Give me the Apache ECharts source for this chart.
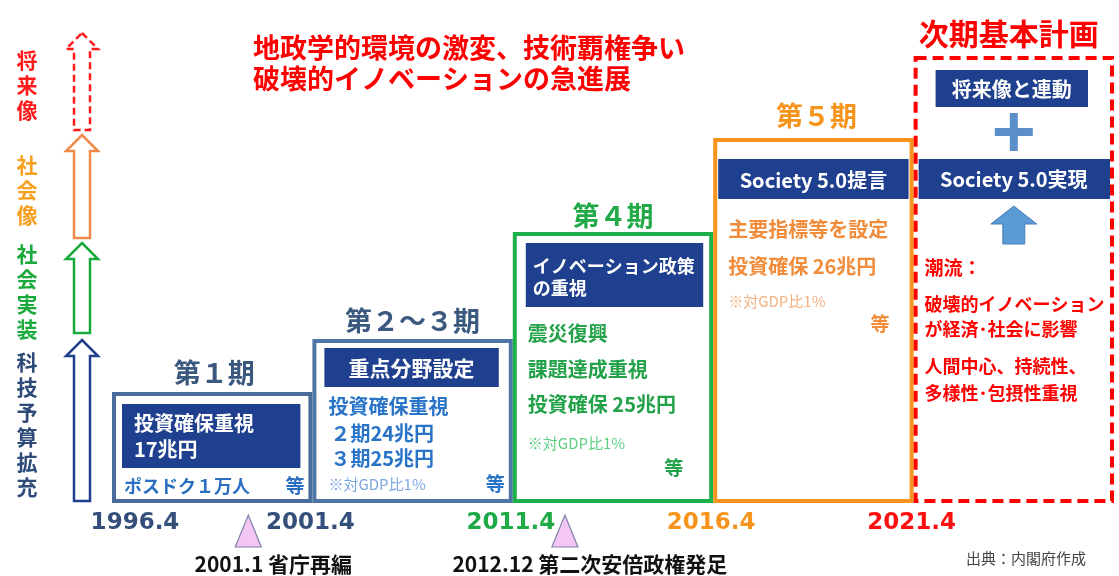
<!DOCTYPE html>
<html>
<head>
<meta charset="utf-8">
<script src="https://cdn.jsdelivr.net/npm/echarts@6/dist/echarts.min.js"></script>
<style>
  html, body { margin: 0; padding: 0; background: #fff; }
  #main { width: 1119px; height: 576px; }
</style>
</head>
<body>
<div id="main"></div>
<script>
// 期ごとの枠（横位置は期の番号、縦は階段の高さ）
var periods = ['第１期', '第２～３期', '第４期', '第５期', '次期基本計画'];
var periodTops = [1.07, 1.6, 2.67, 3.61, 4.43];
var yearLabels = ['1996.4', '2001.4', '2011.4', '2016.4', '2021.4'];

// 枠の中の見出し（紺の帯）と本文
var headTexts = [
  ['投資確保重視', '17兆円'],
  ['重点分野設定'],
  ['イノベーション政策', 'の重視'],
  ['Society 5.0提言'],
  ['将来像と連動', 'Society 5.0実現']
];
var noteTexts = [
  ['ポスドク１万人'],
  ['投資確保重視', '２期24兆円', '３期25兆円'],
  ['震災復興', '課題達成重視', '投資確保 25兆円'],
  ['主要指標等を設定', '投資確保 26兆円'],
  ['潮流：', '破壊的イノベーション', 'が経済･社会に影響', '人間中心、持続性、', '多様性･包摂性重視']
];
var gdpNote = '※対GDP比1%';
var etcText = '等';

// 左の矢印（段階）
var stageNames = ['科技予算拡充', '社会実装', '社会像', '将来像'];
var stageFrom = [0, 1.68, 2.63, 3.71];
var stageTo = [1.61, 2.58, 3.66, 4.68];

// 出来事（三角印）
var eventDates = ['2001.1', '2012.12'];
var eventNames = ['省庁再編', '第二次安倍政権発足'];
var eventAt = [0.68, 2.26];

var JP = '"Noto Sans CJK JP", "Noto Sans", sans-serif';
var NAVY = '#1f3f8f';
var boxColors = ['#4a6c9b', '#5076a8', '#1db14b', '#f7941d', '#ff0000'];
var titleColors = ['#3b587f', '#3b587f', '#22aa48', '#f7941d', '#ff0000'];
var yearColors = ['#34507a', '#34507a', '#1eaa46', '#f7941d', '#ff1010'];
var stageColors = ['#203f8f', '#1aaa3c', '#ee8a4a', '#ff1a1a'];
var stageTextColors = ['#2d4a78', '#1aaa3c', '#f7a020', '#ff1a1a'];

function txt(x, y, s, fill, size, align, weight) {
  return {
    type: 'text',
    style: {
      x: x, y: y, text: s, fill: fill,
      fontSize: size, fontWeight: weight || 'bold', fontFamily: JP,
      align: align || 'left', verticalAlign: 'middle'
    }
  };
}
function navy(x, y, w, h) {
  return { type: 'rect', shape: { x: x, y: y, width: w, height: h }, style: { fill: NAVY } };
}

function renderPeriod(params, api) {
  var i = api.value(0);
  var p0 = api.coord([i, api.value(1)]);
  var p1 = api.coord([i + 1, 0]);
  var bx = p0[0] + 2, bx2 = p1[0] - 2, by = p0[1], by2 = p1[1];
  var cx = (bx + bx2) / 2;
  var heads = headTexts[i], notes = noteTexts[i];
  var kids = [{
    type: 'rect',
    shape: { x: bx, y: by, width: bx2 - bx, height: by2 - by },
    style: {
      fill: '#fff', stroke: boxColors[i], lineWidth: 4,
      lineDash: i === 4 ? [11, 6] : null
    }
  }];
  if (i === 0) {
    kids.push(txt(cx + 2, by - 21, periods[i], titleColors[i], 27, 'center'));
    kids.push(navy(bx + 8, by + 10, bx2 - bx - 18, 64));
    kids.push(txt(bx + 20, by + 29, heads[0], '#fff', 20));
    kids.push(txt(bx + 20, by + 55, heads[1], '#fff', 20));
    kids.push(txt(bx + 10, by + 92, notes[0], '#2a6fc0', 18));
    kids.push(txt(bx2 - 6, by + 92, etcText, '#2a6fc0', 19, 'right'));
  } else if (i === 1) {
    kids.push(txt(cx, by - 20, periods[i], titleColors[i], 27, 'center'));
    kids.push(navy(bx + 10, by + 7, bx2 - bx - 22, 39));
    kids.push(txt(cx - 1, by + 27, heads[0], '#fff', 21, 'center'));
    kids.push(txt(bx + 14, by + 65, notes[0], '#2a74c8', 20));
    kids.push(txt(bx + 16, by + 92, notes[1], '#2a74c8', 20));
    kids.push(txt(bx + 16, by + 117, notes[2], '#2a74c8', 20));
    kids.push(txt(bx + 14, by + 143, gdpNote, '#7ca6e0', 15, 'left', 'normal'));
    kids.push(txt(bx2 - 6, by + 143, etcText, '#2a74c8', 19, 'right'));
  } else if (i === 2) {
    kids.push(txt(cx, by - 18, periods[i], titleColors[i], 27, 'center'));
    kids.push(navy(bx + 11, by + 9, bx2 - bx - 19, 64));
    kids.push(txt(bx + 18, by + 32, heads[0], '#fff', 18));
    kids.push(txt(bx + 18, by + 54, heads[1], '#fff', 18));
    kids.push(txt(bx + 13, by + 99, notes[0], '#23a24a', 20));
    kids.push(txt(bx + 13, by + 135, notes[1], '#23a24a', 20));
    kids.push(txt(bx + 13, by + 170, notes[2], '#23a24a', 20));
    kids.push(txt(bx + 13, by + 209, gdpNote, '#5fcf85', 15, 'left', 'normal'));
    kids.push(txt(bx2 - 28, by + 234, etcText, '#23a24a', 19, 'right'));
  } else if (i === 3) {
    kids.push(txt(cx + 3, by - 24, periods[i], titleColors[i], 27, 'center'));
    kids.push(navy(bx + 3, by + 19, bx2 - bx - 6, 40));
    kids.push(txt(cx, by + 40, heads[0], '#fff', 20, 'center'));
    kids.push(txt(bx + 13, by + 89, notes[0], '#f08c3a', 20));
    kids.push(txt(bx + 13, by + 126, notes[1], '#f08c3a', 20));
    kids.push(txt(bx + 13, by + 161, gdpNote, '#f4b282', 15, 'left', 'normal'));
    kids.push(txt(bx2 - 22, by + 184, etcText, '#f08c3a', 19, 'right'));
  } else {
    kids.push(txt(cx - 5, by - 24, periods[i], titleColors[i], 30, 'center'));
    kids.push(navy(bx + 20, by + 12, bx2 - bx - 44, 37));
    kids.push(txt(cx - 2, by + 31, heads[0], '#fff', 20, 'center'));
    kids.push({ type: 'rect', shape: { x: cx - 19, y: by + 70, width: 38, height: 8 }, style: { fill: '#5b8fc9' } });
    kids.push({ type: 'rect', shape: { x: cx - 4, y: by + 55, width: 8, height: 38 }, style: { fill: '#5b8fc9' } });
    kids.push(navy(bx + 3, by + 101, bx2 - bx - 5, 40));
    kids.push(txt(cx, by + 121, heads[1], '#fff', 20, 'center'));
    kids.push({
      type: 'polygon',
      shape: { points: [[cx, by + 148], [cx + 23, by + 166], [cx + 11, by + 166], [cx + 11, by + 186],
        [cx - 11, by + 186], [cx - 11, by + 166], [cx - 23, by + 166]] },
      style: { fill: '#5b9bd5', stroke: '#4a80b8', lineWidth: 1 }
    });
    var ny = [210, 246, 271, 308, 335];
    notes.forEach(function (s, k) {
      kids.push(txt(bx + 9, by + ny[k], s, '#ff0000', k === 0 ? 19 : 18));
    });
  }
  return { type: 'group', children: kids };
}

function renderStage(params, api) {
  var i = params.dataIndex;
  var y0 = api.coord([0, api.value(0)])[1];
  var y1 = api.coord([0, api.value(1)])[1];
  var cx = api.coord([0, 0])[0] - 30;
  var hw = 16, sw = 8, hh = 16;
  return {
    type: 'group',
    children: [{
      type: 'polygon',
      shape: { points: [[cx, y1], [cx + hw, y1 + hh], [cx + sw, y1 + hh], [cx + sw, y0],
        [cx - sw, y0], [cx - sw, y1 + hh], [cx - hw, y1 + hh]] },
      style: {
        fill: '#fff', stroke: stageColors[i], lineWidth: 2.5,
        lineDash: i === 3 ? [7, 4] : null
      }
    }, {
      type: 'text',
      style: {
        x: 27, y: (y0 + y1) / 2 + 4,
        text: stageNames[i].split('').join('\n'),
        fill: stageTextColors[i], fontSize: 21, fontWeight: 'bold', fontFamily: JP,
        lineHeight: 25, align: 'center', verticalAlign: 'middle'
      }
    }]
  };
}

function renderYear(params, api) {
  var i = params.dataIndex;
  var p = api.coord([api.value(0), 0]);
  return {
    type: 'text',
    style: {
      x: p[0] + (i === 0 ? 23 : -2), y: p[1] + 22, text: yearLabels[i],
      fill: yearColors[i], fontSize: 23, fontWeight: 'bold', fontFamily: '"DejaVu Sans", sans-serif',
      align: 'center', verticalAlign: 'middle'
    }
  };
}

function renderEvent(params, api) {
  var i = params.dataIndex;
  var p = api.coord([api.value(0), 0]);
  var x = p[0], y = p[1];
  return {
    type: 'group',
    children: [{
      type: 'polygon',
      shape: { points: [[x, y + 14], [x + 13, y + 46], [x - 13, y + 46]] },
      style: { fill: '#f4c6f4', stroke: '#8080a8', lineWidth: 1.2 }
    }, txt(x + 25, y + 63, eventDates[i] + ' ' + eventNames[i], '#111', 21, 'center')]
  };
}

var chart = echarts.init(document.getElementById('main'), null, { renderer: 'canvas' });

var option = {
  animation: false,
  backgroundColor: '#fff',
  title: {
    text: '地政学的環境の激変、技術覇権争い\n破壊的イノベーションの急進展',
    left: 248, top: 27,
    textStyle: { color: '#ff0000', fontSize: 27, fontWeight: 'bold', fontFamily: JP, lineHeight: 31 }
  },
  graphic: [{
    type: 'text', right: 33, top: 551,
    style: { text: '出典：内閣府作成', fill: '#444', fontSize: 15, fontFamily: JP }
  }],
  grid: { left: 112, right: 5, top: 1, bottom: 75 },
  xAxis: { type: 'value', min: 0, max: 5, show: false },
  yAxis: { type: 'value', min: 0, max: 5, show: false },
  series: [{
    type: 'custom',
    name: 'periods',
    renderItem: renderPeriod,
    data: periods.map(function (n, i) { return [i, periodTops[i]]; })
  }, {
    type: 'custom',
    name: 'stages',
    renderItem: renderStage,
    data: stageNames.map(function (n, i) { return [stageFrom[i], stageTo[i]]; })
  }, {
    type: 'custom',
    name: 'years',
    renderItem: renderYear,
    data: yearLabels.map(function (n, i) { return [i, 0]; })
  }, {
    type: 'custom',
    name: 'events',
    renderItem: renderEvent,
    data: eventAt.map(function (x) { return [x, 0]; })
  }]
};

chart.setOption(option);
</script>
</body>
</html>
